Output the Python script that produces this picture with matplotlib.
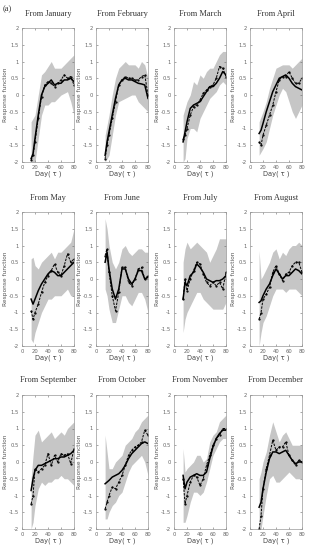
import numpy as np
import matplotlib
matplotlib.use("Agg")
import matplotlib.pyplot as plt

months = ["January", "February", "March", "April", "May", "June",
          "July", "August", "September", "October", "November", "December"]

# lag days (tau)
days = [14, 17, 20, 25, 30, 35, 40, 45, 50, 55, 60, 65, 70, 75, 80]

# upper / lower edge of the grey band, solid and dashed response curves
band_hi = [
    [-0.8, -0.7, -0.6, 0.0, 0.6, 0.7, 0.85, 1.0, 0.8, 0.8, 0.8, 0.9, 1.0, 1.1, 1.2],
    [-1.2, -0.9, -0.6, 0.0, 0.5, 0.8, 0.9, 1.0, 0.9, 0.9, 0.9, 0.8, 1.0, 0.9, 0.5],
    [-0.6, -0.4, -0.2, 0.0, 0.4, 0.3, 0.6, 0.5, 0.7, 0.8, 0.8, 1.0, 1.2, 1.3, 1.3],
    [-0.8, -0.65, -0.5, -0.2, 0.2, 0.5, 0.8, 0.85, 0.9, 0.9, 0.9, 0.8, 0.9, 1.0, 1.1],
    [0.6, 0.65, 0.4, 0.3, 0.5, 0.6, 0.7, 0.8, 0.6, 0.8, 0.8, 0.9, 1.0, 1.1, 1.5],
    [1.8, 1.5, 1.0, 0.5, 0.3, 0.5, 0.9, 1.0, 0.8, 0.7, 0.8, 0.9, 0.9, 0.8, 0.8],
    [0.5, 0.9, 1.1, 0.9, 1.0, 1.1, 1.0, 0.9, 0.8, 0.5, 0.7, 0.9, 1.2, 1.2, 1.2],
    [0.85, 0.0, 0.1, 0.3, 0.5, 0.8, 0.9, 0.6, 0.8, 0.7, 0.9, 1.0, 1.0, 1.1, 1.0],
    [-0.5, 0.2, 0.8, 0.95, 0.6, 0.7, 0.8, 0.9, 0.7, 0.8, 0.9, 0.8, 1.0, 1.1, 1.2],
    [0.8, 0.3, -0.2, -0.2, 0.0, 0.1, 0.2, 0.5, 0.6, 0.7, 0.9, 1.0, 1.2, 1.3, 1.4],
    [0.4, -0.3, -0.2, -0.1, 0.0, 0.2, 0.2, 0.0, 0.1, 0.6, 0.8, 0.9, 1.2, 1.3, 1.4],
    [-0.5, -0.3, 0.0, 0.3, 0.8, 1.2, 0.9, 0.6, 0.8, 0.9, 0.7, 0.5, 0.5, 0.5, 0.5],
]
band_lo = [
    [-2.0, -2.0, -2.0, -1.3, -0.6, -0.3, -0.3, -0.2, -0.2, -0.1, 0.0, 0.05, 0.1, -0.2, -0.6],
    [-2.0, -1.9, -1.8, -1.2, -0.6, -0.2, -0.15, -0.1, -0.05, 0.0, 0.0, -0.2, -0.3, -0.4, -0.5],
    [-2.0, -1.9, -1.3, -1.0, -1.0, -1.1, -0.7, -0.5, -0.3, -0.1, 0.0, 0.1, 0.3, 0.4, 0.3],
    [-1.8, -1.7, -1.6, -1.4, -1.0, -0.6, -0.3, 0.0, 0.2, 0.1, -0.2, -0.5, -0.7, -0.5, -0.3],
    [-1.8, -1.9, -1.6, -1.3, -1.0, -0.8, -0.6, -0.6, -0.5, -0.5, -0.5, -0.4, -0.3, -0.5, -0.5],
    [-0.3, -0.5, -0.9, -1.3, -1.3, -0.9, -0.5, -0.5, -0.7, -0.8, -0.6, -0.4, -0.4, -0.6, -1.0],
    [-1.6, -1.2, -1.0, -0.8, -0.6, -0.4, -0.4, -0.6, -0.7, -0.8, -0.9, -0.9, -0.9, -0.9, -0.7],
    [-2.0, -1.6, -1.3, -1.1, -0.8, -0.5, -0.3, -0.3, -0.3, -0.4, -0.3, -0.3, -0.3, -0.4, -0.5],
    [-2.0, -1.8, -1.3, -0.8, -0.6, -0.7, -0.6, -0.6, -0.5, -0.5, -0.4, -0.5, -0.5, -0.6, -0.7],
    [-1.7, -1.7, -1.5, -1.3, -1.2, -1.0, -0.9, -0.6, -0.3, -0.1, 0.0, 0.1, 0.2, 0.0, -0.4],
    [-1.8, -1.8, -1.6, -1.2, -0.9, -0.9, -1.0, -0.9, -0.6, -0.2, 0.2, 0.4, 0.6, 0.7, 0.7],
    [-2.0, -2.0, -1.6, -1.0, -0.5, -0.4, -0.6, -0.6, -0.5, -0.4, -0.3, -0.4, -0.5, -0.5, -0.5],
]
solid = [
    [-1.9, -1.75, -1.3, -0.6, 0.0, 0.25, 0.35, 0.45, 0.3, 0.35, 0.35, 0.45, 0.45, 0.5, 0.4],
    [-1.8, -1.4, -1.1, -0.6, -0.1, 0.3, 0.45, 0.5, 0.45, 0.45, 0.4, 0.35, 0.33, 0.3, -0.1],
    [-1.4, -1.1, -0.8, -0.4, -0.3, -0.25, -0.2, -0.05, 0.1, 0.25, 0.25, 0.35, 0.5, 0.7, 0.6],
    [-1.15, -1.05, -0.85, -0.5, -0.2, 0.1, 0.3, 0.5, 0.55, 0.6, 0.5, 0.35, 0.25, 0.2, 0.15],
    [-0.6, -0.75, -0.6, -0.35, -0.15, 0.0, 0.15, 0.25, 0.2, 0.1, 0.1, 0.2, 0.3, 0.4, 0.5],
    [0.5, 0.8, 0.3, -0.3, -0.6, -0.3, 0.3, 0.3, 0.0, -0.15, 0.0, 0.25, 0.25, 0.0, 0.05],
    [-0.6, -0.1, -0.2, 0.1, 0.2, 0.45, 0.35, 0.2, 0.0, -0.05, -0.1, -0.05, -0.05, 0.0, 0.1],
    [-0.7, -0.65, -0.5, -0.3, -0.15, 0.1, 0.3, 0.15, 0.0, 0.1, 0.1, 0.2, 0.3, 0.25, 0.15],
    [-0.85, -0.5, -0.25, -0.1, -0.1, -0.05, 0.0, 0.05, 0.1, 0.1, 0.15, 0.15, 0.2, 0.25, 0.35],
    [-0.65, -0.6, -0.55, -0.45, -0.4, -0.35, -0.25, -0.1, 0.1, 0.25, 0.35, 0.45, 0.55, 0.6, 0.55],
    [-0.4, -0.8, -0.6, -0.45, -0.4, -0.35, -0.4, -0.4, -0.3, 0.1, 0.45, 0.7, 0.85, 0.95, 0.95],
    [-1.35, -1.2, -0.8, -0.3, 0.1, 0.3, 0.3, 0.25, 0.3, 0.35, 0.2, 0.05, -0.05, 0.0, 0.0],
]
dashed = [
    [-1.95, -1.8, -1.4, -0.7, -0.05, 0.3, 0.4, 0.35, 0.25, 0.35, 0.45, 0.6, 0.5, 0.55, 0.3],
    [-1.9, -1.5, -1.2, -0.7, -0.2, 0.3, 0.45, 0.55, 0.5, 0.5, 0.45, 0.45, 0.55, 0.6, 0.0],
    [-1.3, -1.2, -1.0, -0.6, -0.35, -0.3, -0.15, 0.05, 0.15, 0.25, 0.3, 0.5, 0.85, 0.8, 0.55],
    [-1.4, -1.5, -1.2, -0.9, -0.6, -0.3, 0.1, 0.45, 0.55, 0.55, 0.7, 0.5, 0.35, 0.35, 0.5],
    [-0.95, -1.2, -1.0, -0.75, -0.4, -0.1, 0.1, 0.25, 0.45, 0.2, 0.1, 0.4, 0.75, 0.5, 0.6],
    [0.7, 0.9, 0.2, -0.5, -0.95, -0.4, 0.35, 0.35, -0.1, -0.2, 0.0, 0.3, 0.35, 0.0, 0.1],
    [-0.6, 0.0, -0.35, 0.0, 0.25, 0.5, 0.45, 0.15, -0.1, -0.2, -0.1, -0.2, -0.1, -0.3, 0.2],
    [-1.2, -1.0, -0.6, -0.45, -0.25, 0.2, 0.4, 0.15, -0.05, 0.15, 0.2, 0.4, 0.5, 0.5, 0.2],
    [-1.25, -1.0, -0.2, -0.3, -0.2, -0.1, 0.25, -0.1, 0.2, 0.0, 0.25, 0.2, 0.25, -0.05, 0.4],
    [-1.4, -1.2, -1.0, -0.75, -0.8, -0.6, -0.4, -0.1, 0.2, 0.35, 0.45, 0.5, 0.6, 0.95, 0.8],
    [-0.5, -1.25, -1.0, -0.6, -0.4, -0.45, -0.7, -0.5, -0.1, 0.2, 0.5, 0.7, 0.8, 1.0, 1.0],
    [-2.0, -1.6, -0.8, -0.2, 0.2, 0.65, 0.35, 0.45, 0.45, 0.6, 0.2, 0.05, -0.1, 0.05, 0.0],
]

W, H = 311, 550
fig = plt.figure(figsize=(W / 100, H / 100), dpi=100)

col_left = [22, 96, 174, 250]
row_top = [28, 212, 395]
aw, ah = 52, 134

fig.text(3 / W, 1 - 11 / H, "(a)", fontsize=6, family="Liberation Serif", color="#333333")

for i, m in enumerate(months):
    r, c = divmod(i, 4)
    ax = fig.add_axes([col_left[c] / W, 1 - (row_top[r] + ah) / H, aw / W, ah / H])
    ax.fill_between(days, band_lo[i], band_hi[i], color="#c6c6c6", lw=0)
    ax.plot(days, solid[i], color="black", lw=1.1)
    ax.plot(days, dashed[i], color="black", lw=0.7, ls=(0, (2.5, 1.2)),
            marker=".", ms=1.2)
    ax.set_xlim(0, 80)
    ax.set_ylim(-2, 2)
    ax.set_xticks([0, 20, 40, 60, 80])
    ax.set_yticks([-2, -1.5, -1, -0.5, 0, 0.5, 1, 1.5, 2])
    ax.set_yticklabels(["-2", "-1.5", "-1", "-0.5", "0", "0.5", "1", "1.5", "2"])
    ax.tick_params(direction="in", length=1.5, width=0.4, labelsize=3.8,
                   colors="#666666", pad=2, top=True, right=True)
    for s in ax.spines.values():
        s.set_color("#999999")
        s.set_linewidth(0.5)
    ax.set_title("From " + m, fontsize=6, family="Liberation Serif",
                 color="#333333", pad=9)
    ax.set_ylabel("Response function", fontsize=4.2, color="#555555", labelpad=1)
    ax.set_xlabel("Day( \u03c4 )", fontsize=4.8, color="#444444", labelpad=0.5)

fig.savefig("out.png", dpi=100)
